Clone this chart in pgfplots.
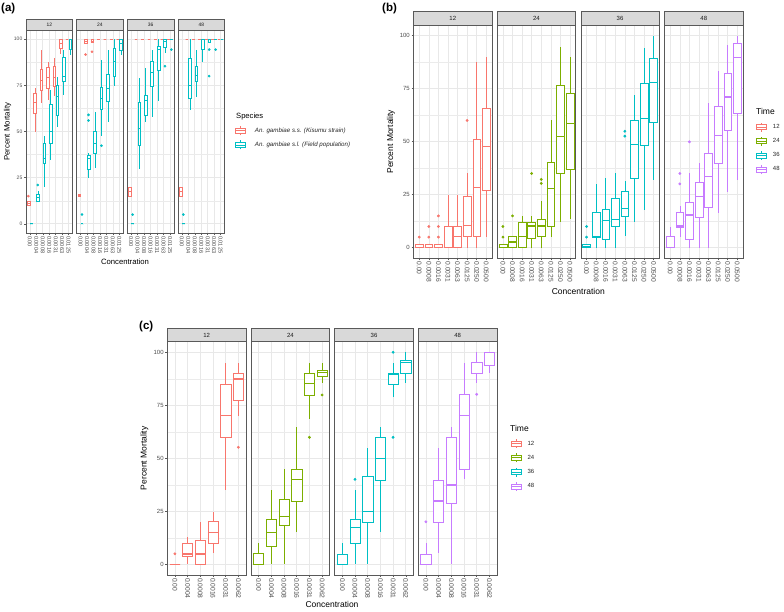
\documentclass[border=0pt]{standalone}
\usepackage{pgfplots}
\pgfplotsset{compat=1.18}
\usepgfplotslibrary{statistics}
\usepackage{fontspec}
\setmainfont{Liberation Sans}
\definecolor{cR}{HTML}{F8766D}
\definecolor{cG}{HTML}{7CAE00}
\definecolor{cC}{HTML}{00BFC4}
\definecolor{cP}{HTML}{C77CFF}
\pgfplotsset{
 bxs/.style={forget plot, color=#1, fill=white, mark=*, mark size=1.1pt, mark options={draw=#1, fill=#1, solid}},
 fbase/.style={scale only axis, anchor=south west, ymin=-5, ymax=105, ytick={0,25,50,75,100},
   minor ytick={12.5,37.5,62.5,87.5}, xmajorgrids=true, ymajorgrids=true, yminorgrids=true,
   major grid style={draw=black!9, line width=0.6pt}, minor grid style={draw=black!8, line width=0.3pt},
   axis line style={draw=black!65, line width=0.5pt}, tick align=outside, major tick length=2pt,
   minor tick length=0pt, tick style={draw=black!65, line width=0.5pt}, tick pos=left,
   /pgf/number format/assume math mode=true,
   xticklabel style={rotate=-90, anchor=west, inner sep=1pt, text=black!70},
   yticklabel style={inner sep=1.5pt, text=black!70}, boxplot/whisker extend=0, boxplot/draw direction=y},
 noy/.style={yticklabels={}, ytick style={draw=none}},
 fa/.style={fbase, width=46.5pt, height=203pt, xmin=-0.6, xmax=6.6, xtick={0,...,6},
   xticklabels={0.00,0.0004,0.0008,0.0016,0.0031,0.0063,0.0125}, boxplot/box extend=0.405,
   yticklabel style={font=\fontsize{5}{5}\selectfont}, xticklabel style={font=\fontsize{5.6}{6}\selectfont},
   every axis plot/.append style={line width=0.45pt},
   boxplot/every median/.style={line width=0.9pt}},
 fb/.style={fbase, width=78.5pt, height=233.3pt, xmin=-0.6, xmax=7.6, xtick={0,...,7},
   xticklabels={0.00,0.0008,0.0016,0.0031,0.0063,0.0125,0.0250,0.0500}, boxplot/box extend=0.81,
   yticklabel style={font=\fontsize{6}{6}\selectfont}, xticklabel style={font=\fontsize{6.7}{7}\selectfont},
   every axis plot/.append style={line width=0.6pt},
   boxplot/every median/.style={line width=1.2pt}},
 fc/.style={fbase, width=78.7pt, height=233.3pt, xmin=-0.6, xmax=5.6, xtick={0,...,5},
   xticklabels={0.00,0.0004,0.0008,0.0016,0.0031,0.0062}, boxplot/box extend=0.81,
   yticklabel style={font=\fontsize{6}{6}\selectfont}, xticklabel style={font=\fontsize{6.7}{7}\selectfont},
   every axis plot/.append style={line width=0.6pt},
   boxplot/every median/.style={line width=1.2pt}},
 leg/.style={legend style={draw=none, fill=none, anchor=north west, inner sep=0pt, outer sep=0pt,
   row sep=4.7pt, nodes={inner sep=1pt, text=black!85}}, legend cell align=left},
}
% color, position, lower whisker, lower quartile, median, upper quartile, upper whisker, outliers
\newcommand{\bx}[8]{\addplot[bxs=#1, boxplot prepared={draw position=#2, lower whisker=#3,
  lower quartile=#4, median=#5, upper quartile=#6, upper whisker=#7}] coordinates {#8};}
\newcommand{\lkey}[1]{\addlegendimage{legend image code/.code={%
 \draw[draw=#1, line width=0.5pt] (5pt,-4.5pt)--(5pt,4.5pt);
 \draw[draw=#1, fill=white, line width=0.5pt] (0pt,-2.5pt) rectangle (10pt,2.5pt);
 \draw[draw=#1, line width=0.9pt] (0pt,0pt)--(10pt,0pt);}}}
\newcommand{\strip}[4]{%
 \draw[fill=black!15, draw=black!65, line width=0.5pt] (#1.north west) rectangle ([yshift=#2]#1.north east);
 \node[font=#4, text=black!90, inner sep=0pt] at ([yshift=#2/2]#1.north) {#3};}
\begin{document}
\begin{tikzpicture}
\path[use as bounding box] (0pt,0pt) rectangle (784pt,-611pt);
%================ (a)
\begin{axis}[fa, at={(26pt,-233pt)}, name=A1]
\bx{cR}{-0.225}{10}{10}{11}{12}{12}{(0,15)}
\bx{cR}{0.775}{50}{60}{66}{70.7}{73.4}{}
\bx{cR}{1.775}{65.3}{72.5}{77.5}{83.6}{94.4}{}
\bx{cR}{2.775}{67}{73.4}{79.3}{85}{87.8}{}
\bx{cR}{3.775}{69}{74.3}{79.3}{85.4}{89.6}{}
\bx{cR}{4.775}{92}{95}{97.5}{100}{100}{}
\bx{cR}{5.775}{100}{100}{100}{100}{100}{}
\bx{cC}{0.225}{0}{0}{0}{0}{0}{}
\bx{cC}{1.225}{11.7}{12.2}{14}{15.8}{17.6}{(0,21)}
\bx{cC}{2.225}{19.8}{32.6}{35.3}{43.7}{47.3}{}
\bx{cC}{3.225}{34.7}{43.7}{50}{64.7}{72.5}{}
\bx{cC}{4.225}{52.7}{58.6}{69.2}{75.2}{79.7}{}
\bx{cC}{5.225}{69.8}{77}{80}{90.1}{94.4}{}
\bx{cC}{6.225}{91.7}{94.4}{100}{100}{100}{}
\end{axis}
\begin{axis}[fa, noy, at={(76.7pt,-233pt)}, name=A2]
\bx{cR}{-0.225}{15}{15}{15.5}{16}{16}{}
\bx{cR}{0.775}{97.7}{97.7}{98.6}{100}{100}{(0,91.7)}
\bx{cR}{1.775}{98.2}{98.2}{99}{100}{100}{(0,93.2)}
\bx{cR}{2.775}{100}{100}{100}{100}{100}{}
\bx{cR}{3.775}{100}{100}{100}{100}{100}{}
\bx{cR}{4.775}{100}{100}{100}{100}{100}{}
\bx{cR}{5.775}{100}{100}{100}{100}{100}{}
\bx{cC}{0.225}{0}{0}{0}{0}{0}{(0,5)}
\bx{cC}{1.225}{24.8}{29.7}{35.4}{37}{38.3}{(0,56)(0,59)}
\bx{cC}{2.225}{30.2}{38.3}{43.7}{50}{60.8}{}
\bx{cC}{3.225}{47.3}{62}{67.8}{73.9}{88.7}{(0,42.3)}
\bx{cC}{4.225}{55.4}{66.2}{73.4}{81.1}{94.4}{}
\bx{cC}{5.225}{74.6}{80}{87.8}{95}{100}{}
\bx{cC}{6.225}{91.7}{94}{97.7}{100}{100}{}
\end{axis}
\begin{axis}[fa, noy, at={(127.3pt,-233pt)}, name=A3]
\bx{cR}{-0.225}{15}{15}{17.6}{19.8}{19.8}{}
\bx{cR}{0.775}{100}{100}{100}{100}{100}{}
\bx{cR}{1.775}{100}{100}{100}{100}{100}{}
\bx{cR}{2.775}{100}{100}{100}{100}{100}{}
\bx{cR}{3.775}{100}{100}{100}{100}{100}{}
\bx{cR}{4.775}{100}{100}{100}{100}{100}{}
\bx{cR}{5.775}{100}{100}{100}{100}{100}{}
\bx{cC}{0.225}{0}{0}{0}{0}{0}{(0,5)}
\bx{cC}{1.225}{29.7}{42.4}{51.4}{65.8}{78.8}{}
\bx{cC}{2.225}{55.4}{59}{67}{69.4}{84.2}{}
\bx{cC}{3.225}{57.7}{74.8}{81.8}{88.1}{94.4}{}
\bx{cC}{4.225}{66.7}{83.3}{94.4}{96.4}{100}{}
\bx{cC}{5.225}{92.6}{95.9}{98.6}{100}{100}{(0,85.4)}
\bx{cC}{6.225}{100}{100}{100}{100}{100}{(0,94.4)}
\end{axis}
\begin{axis}[fa, noy, at={(178pt,-233pt)}, name=A4, leg,
  legend style={at={(1.226,0.527)}, column sep=8pt, font=\itshape\fontsize{6.2}{7}\selectfont}]
\bx{cR}{-0.225}{15}{15}{17.6}{19.8}{19.8}{}
\bx{cR}{0.775}{100}{100}{100}{100}{100}{}
\bx{cR}{1.775}{100}{100}{100}{100}{100}{}
\bx{cR}{2.775}{100}{100}{100}{100}{100}{}
\bx{cR}{3.775}{100}{100}{100}{100}{100}{}
\bx{cR}{4.775}{100}{100}{100}{100}{100}{}
\bx{cR}{5.775}{100}{100}{100}{100}{100}{}
\bx{cC}{0.225}{0}{0}{0}{0}{0}{(0,5)}
\bx{cC}{1.225}{61.7}{68}{74.8}{89.6}{100}{}
\bx{cC}{2.225}{68.9}{77}{80.6}{85.6}{94.4}{}
\bx{cC}{3.225}{87.8}{94.4}{100}{100}{100}{}
\bx{cC}{4.225}{98.6}{98.6}{100}{100}{100}{(0,94.4)(0,80)}
\bx{cC}{5.225}{100}{100}{100}{100}{100}{(0,94.4)}
\bx{cC}{6.225}{100}{100}{100}{100}{100}{}
\lkey{cR}\addlegendentry{An. gambiae s.s. (Kisumu strain)}
\lkey{cC}\addlegendentry{An. gambiae s.l. (Field population)}
\end{axis}
\strip{A1}{11pt}{12}{\fontsize{4.9}{5}\selectfont}
\strip{A2}{11pt}{24}{\fontsize{4.9}{5}\selectfont}
\strip{A3}{11pt}{36}{\fontsize{4.9}{5}\selectfont}
\strip{A4}{11pt}{48}{\fontsize{4.9}{5}\selectfont}
\node[anchor=north west, font=\bfseries\fontsize{11.5}{12}\selectfont, inner sep=0pt] at (1pt,-3pt) {(a)};
\node[rotate=90, font=\fontsize{7.8}{8}\selectfont] at (7.5pt,-131.5pt) {Percent Mortality};
\node[font=\fontsize{7.7}{8}\selectfont] at (125pt,-262pt) {Concentration};
\node[anchor=west, font=\fontsize{7.6}{8}\selectfont, inner sep=0pt] at (236pt,-116.7pt) {Species};
%================ (b)
\begin{axis}[fb, at={(413.5pt,-258.3pt)}, name=B1]
\bx{cR}{0}{0}{0}{0}{1.6}{1.6}{(0,5)}
\bx{cR}{1}{0}{0}{0}{1.6}{1.6}{(0,5)(0,10)}
\bx{cR}{2}{0}{0}{0}{1.6}{1.6}{(0,5)(0,10)(0,15)}
\bx{cR}{3}{0}{0}{0}{10}{25}{}
\bx{cR}{4}{0}{0}{5.2}{10}{25}{}
\bx{cR}{5}{0}{5.5}{10.5}{24.3}{35.3}{(0,60)}
\bx{cR}{6}{0}{5.5}{28.3}{51.3}{87.4}{}
\bx{cR}{7}{5}{27}{47.9}{65.9}{90}{}
\end{axis}
\begin{axis}[fb, noy, at={(497.2pt,-258.3pt)}, name=B2]
\bx{cG}{0}{0}{0}{0}{1.6}{1.6}{(0,5)(0,10)}
\bx{cG}{1}{0}{0}{2.7}{5.2}{5.2}{(0,15)}
\bx{cG}{2}{0}{0}{5.2}{12.1}{15}{}
\bx{cG}{3}{0}{4.2}{10.2}{12.1}{15}{(0,35)}
\bx{cG}{4}{0}{5.5}{10.2}{13.3}{22}{(0,30.3)(0,32.2)}
\bx{cG}{5}{5.2}{10.2}{27.8}{40.3}{60}{}
\bx{cG}{6}{12.1}{34.9}{52.6}{76.5}{94.5}{}
\bx{cG}{7}{13.3}{37.2}{58.6}{73}{90}{}
\end{axis}
\begin{axis}[fb, noy, at={(580.8pt,-258.3pt)}, name=B3]
\bx{cC}{0}{0}{0}{0.5}{1.6}{1.6}{(0,5)(0,10)}
\bx{cC}{1}{0}{5}{5}{16.5}{29.8}{}
\bx{cC}{2}{0}{3.9}{12.9}{18}{33}{}
\bx{cC}{3}{0}{9.9}{13.3}{23.5}{35}{}
\bx{cC}{4}{5.5}{14.9}{18.4}{26.7}{31.4}{(0,52.6)(0,54.9)}
\bx{cC}{5}{12.1}{32.8}{48.7}{60.1}{72.2}{}
\bx{cC}{6}{17.6}{48.5}{61.1}{77.7}{94.2}{}
\bx{cC}{7}{31.9}{58.9}{78}{89.2}{100}{}
\end{axis}
\begin{axis}[fb, noy, at={(664.5pt,-258.3pt)}, name=B4, leg,
  legend style={at={(1.166,0.583)}, column sep=5pt, font=\fontsize{6}{6}\selectfont}]
\bx{cP}{0}{0}{0}{0}{5.2}{9.9}{}
\bx{cP}{1}{5}{9.7}{10.2}{16.5}{19.6}{(0,30.1)(0,35)}
\bx{cP}{2}{0}{3.9}{15.4}{21.2}{35.3}{(0,49.9)}
\bx{cP}{3}{0}{14.1}{24.3}{30.9}{40}{}
\bx{cP}{4}{0}{19.2}{33.4}{44.3}{68.3}{}
\bx{cP}{5}{16.2}{39.6}{52.9}{66.7}{83.2}{}
\bx{cP}{6}{26.2}{55.4}{71.1}{82.1}{95.4}{}
\bx{cP}{7}{31.9}{63.6}{89.5}{96.5}{100}{}
\lkey{cR}\addlegendentry{12}
\lkey{cG}\addlegendentry{24}
\lkey{cC}\addlegendentry{36}
\lkey{cP}\addlegendentry{48}
\end{axis}
\strip{B1}{13.4pt}{12}{\fontsize{6}{6}\selectfont}
\strip{B2}{13.4pt}{24}{\fontsize{6}{6}\selectfont}
\strip{B3}{13.4pt}{36}{\fontsize{6}{6}\selectfont}
\strip{B4}{13.4pt}{48}{\fontsize{6}{6}\selectfont}
\node[anchor=north west, font=\bfseries\fontsize{11.5}{12}\selectfont, inner sep=0pt] at (382pt,-3pt) {(b)};
\node[rotate=90, font=\fontsize{8.5}{9}\selectfont] at (391pt,-141.7pt) {Percent Mortality};
\node[font=\fontsize{8.5}{9}\selectfont] at (578.3pt,-291pt) {Concentration};
\node[anchor=west, font=\fontsize{8.5}{9}\selectfont, inner sep=0pt] at (756pt,-111.7pt) {Time};
%================ (c)
\begin{axis}[fc, at={(167.3pt,-575pt)}, name=C1]
\bx{cR}{0}{0}{0}{0}{0}{0}{(0,5)}
\bx{cR}{1}{0}{3.6}{4.9}{9.9}{13}{}
\bx{cR}{2}{0}{0}{4.9}{11.5}{20.1}{}
\bx{cR}{3}{5.2}{9.9}{14.9}{20.1}{24.8}{}
\bx{cR}{4}{35.1}{59.9}{70.1}{85.1}{95.1}{}
\bx{cR}{5}{70.1}{77.5}{87.4}{90.1}{95.1}{(0,55.2)}
\end{axis}
\begin{axis}[fc, noy, at={(251pt,-575pt)}, name=C2]
\bx{cG}{0}{0}{0}{0}{5.2}{9.9}{}
\bx{cG}{1}{0}{8.6}{15.1}{21.2}{35.1}{}
\bx{cG}{2}{0}{18.6}{22.5}{30.8}{45}{}
\bx{cG}{3}{15.1}{29.9}{39.9}{45}{64.9}{}
\bx{cG}{4}{68.4}{79.9}{85.4}{90.1}{95.1}{(0,59.9)}
\bx{cG}{5}{85.4}{88.8}{90.4}{91.7}{95.1}{(0,79.9)}
\end{axis}
\begin{axis}[fc, noy, at={(334.7pt,-575pt)}, name=C3]
\bx{cC}{0}{0}{0}{0}{4.9}{9.9}{}
\bx{cC}{1}{0}{9.9}{17.5}{21.2}{35.1}{(0,40.1)}
\bx{cC}{2}{0}{19.8}{24.8}{41.4}{55}{}
\bx{cC}{3}{15.1}{39.8}{50}{59.9}{64.9}{}
\bx{cC}{4}{79.1}{84.9}{89.8}{90.1}{95.1}{(0,100)(0,59.9)}
\bx{cC}{5}{85.4}{90.1}{95.1}{96.4}{100}{}
\end{axis}
\begin{axis}[fc, noy, at={(418.3pt,-575pt)}, name=C4, leg,
  legend style={at={(1.174,0.583)}, column sep=5pt, font=\fontsize{6}{6}\selectfont}]
\bx{cP}{0}{0}{0}{0}{4.9}{9.9}{(0,20.1)}
\bx{cP}{1}{5.2}{19.8}{29.9}{39.8}{55}{}
\bx{cP}{2}{0}{28.8}{37.4}{59.9}{64.9}{}
\bx{cP}{3}{40.1}{44.8}{70.1}{80.2}{95.1}{}
\bx{cP}{4}{85.4}{90.1}{95.1}{95.1}{100}{(0,80.2)}
\bx{cP}{5}{90.1}{94}{100}{100}{100}{}
\lkey{cR}\addlegendentry{12}
\lkey{cG}\addlegendentry{24}
\lkey{cC}\addlegendentry{36}
\lkey{cP}\addlegendentry{48}
\end{axis}
\strip{C1}{13.4pt}{12}{\fontsize{6}{6}\selectfont}
\strip{C2}{13.4pt}{24}{\fontsize{6}{6}\selectfont}
\strip{C3}{13.4pt}{36}{\fontsize{6}{6}\selectfont}
\strip{C4}{13.4pt}{48}{\fontsize{6}{6}\selectfont}
\node[anchor=north west, font=\bfseries\fontsize{11.5}{12}\selectfont, inner sep=0pt] at (139pt,-321pt) {(c)};
\node[rotate=90, font=\fontsize{8.5}{9}\selectfont] at (144.5pt,-458.3pt) {Percent Mortality};
\node[font=\fontsize{8.5}{9}\selectfont] at (332pt,-604pt) {Concentration};
\node[anchor=west, font=\fontsize{8.5}{9}\selectfont, inner sep=0pt] at (510pt,-428pt) {Time};
\end{tikzpicture}
\end{document}
